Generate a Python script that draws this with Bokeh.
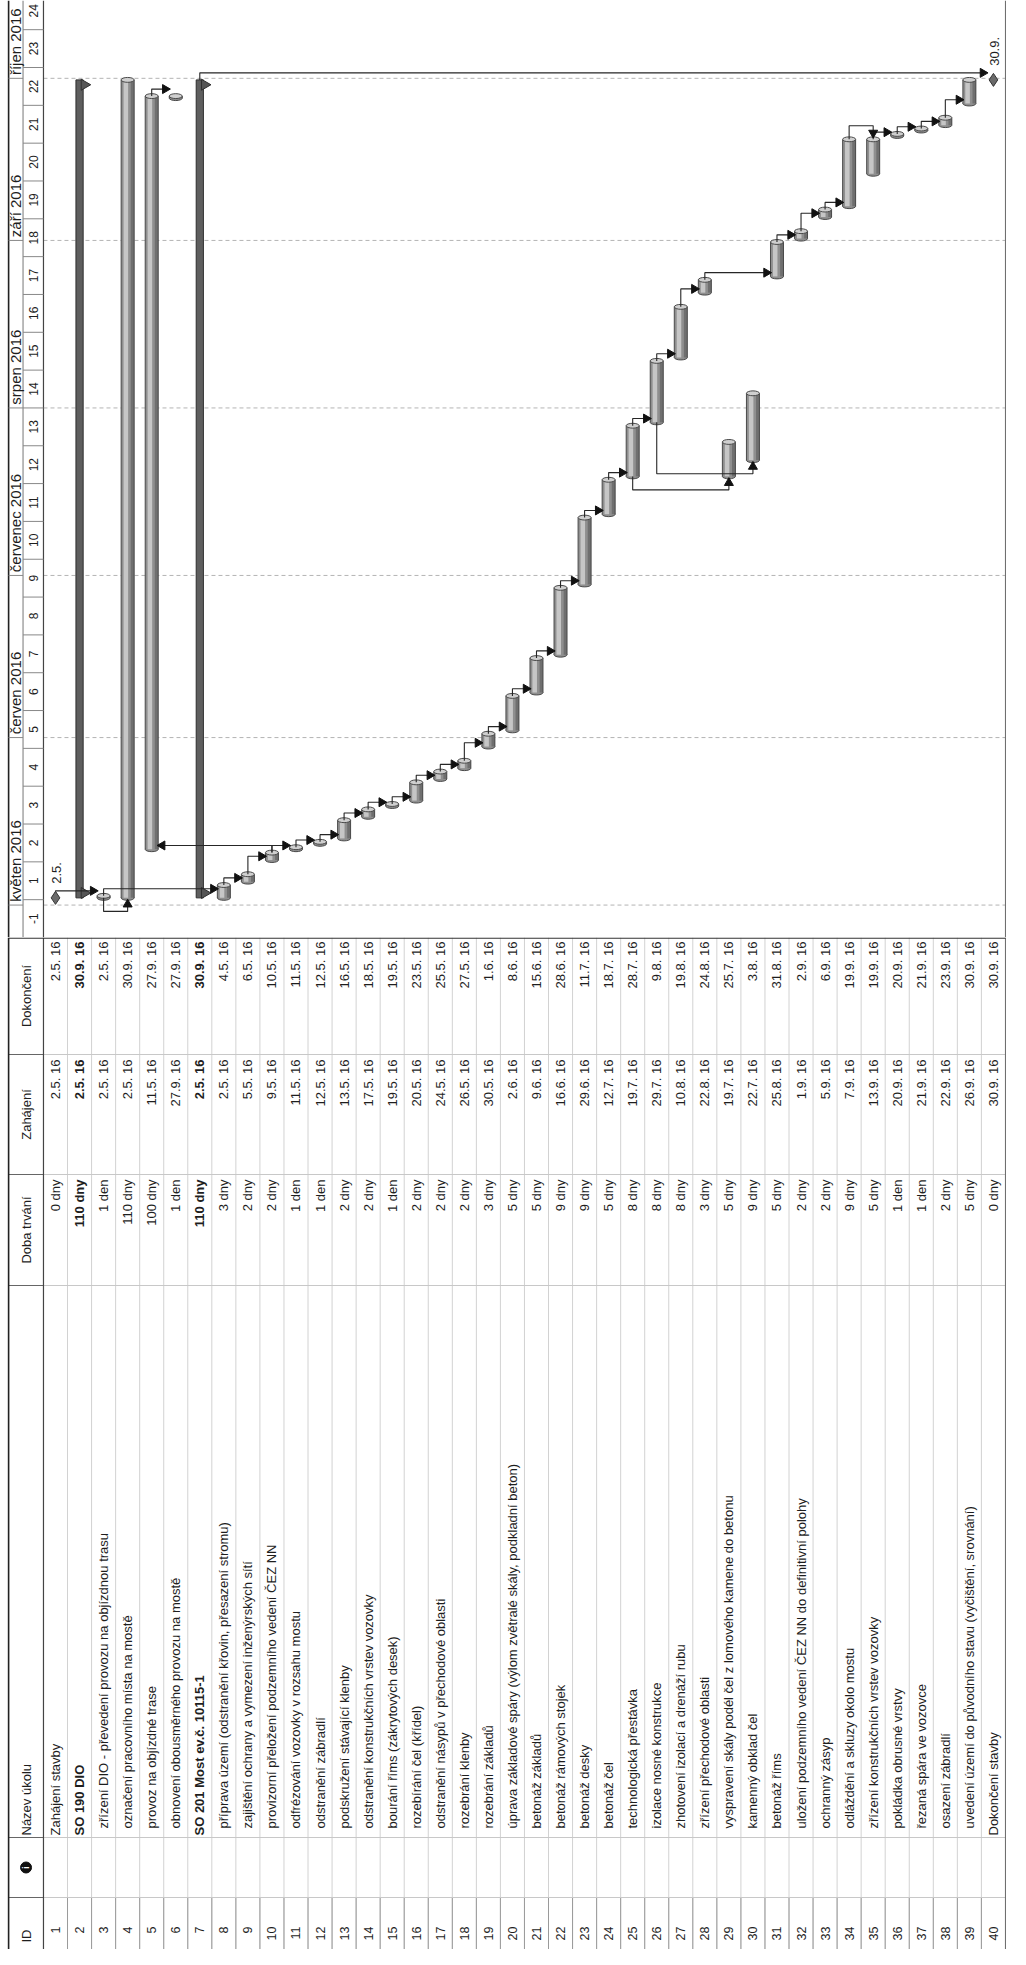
import math
import datetime as dt
from bokeh.plotting import figure
from bokeh.models import Range1d
from bokeh.layouts import column
from bokeh.embed import file_html
from bokeh.resources import INLINE
from bokeh.core.properties import value

# ---------------- data ----------------
task_ids = list(range(1, 41))
task_names = [
    "Zahájení stavby",
    "SO 190 DIO",
    "zřízení DIO - převedení provozu na objízdnou trasu",
    "označení pracovního místa na mostě",
    "provoz na objízdné trase",
    "obnovení obousměrného provozu na mostě",
    "SO 201 Most ev.č. 10115-1",
    "příprava území (odstranění křovin, přesazení stromu)",
    "zajištění ochrany a vymezení inženýrských sítí",
    "provizorní přeložení podzemního vedení ČEZ NN",
    "odfrézování vozovky v rozsahu mostu",
    "odstranění zábradlí",
    "podskružení stávající klenby",
    "odstranění konstrukčních vrstev vozovky",
    "bourání říms (zákrytových desek)",
    "rozebírání čel (křídel)",
    "odstranění násypů v přechodové oblasti",
    "rozebrání klenby",
    "rozebrání základů",
    "úprava základové spáry (výlom zvětralé skály, podkladní beton)",
    "betonáž základů",
    "betonáž rámových stojek",
    "betonáž desky",
    "betonáž čel",
    "technologická přestávka",
    "izolace nosné konstrukce",
    "zhotovení izolací a drenáží rubu",
    "zřízení přechodové oblasti",
    "vyspravení skály podél čel z lomového kamene do betonu",
    "kamenný obklad čel",
    "betonáž říms",
    "uložení podzemního vedení ČEZ NN do definitivní polohy",
    "ochranný zásyp",
    "odláždění a skluzy okolo mostu",
    "zřízení konstrukčních vrstev vozovky",
    "pokládka obrusné vrstvy",
    "řezaná spára ve vozovce",
    "osazení zábradlí",
    "uvedení území do původního stavu (vyčištění, srovnání)",
    "Dokončení stavby",
]
durations = [
    "0 dny", "110 dny", "1 den", "110 dny", "100 dny", "1 den", "110 dny", "3 dny",
    "2 dny", "2 dny", "1 den", "1 den", "2 dny", "2 dny", "1 den", "2 dny", "2 dny",
    "2 dny", "3 dny", "5 dny", "5 dny", "9 dny", "9 dny", "5 dny", "8 dny", "8 dny",
    "8 dny", "3 dny", "5 dny", "9 dny", "5 dny", "2 dny", "2 dny", "9 dny", "5 dny",
    "1 den", "1 den", "2 dny", "5 dny", "0 dny",
]
start_dates = [
    "2.5. 16", "2.5. 16", "2.5. 16", "2.5. 16", "11.5. 16", "27.9. 16", "2.5. 16",
    "2.5. 16", "5.5. 16", "9.5. 16", "11.5. 16", "12.5. 16", "13.5. 16", "17.5. 16",
    "19.5. 16", "20.5. 16", "24.5. 16", "26.5. 16", "30.5. 16", "2.6. 16", "9.6. 16",
    "16.6. 16", "29.6. 16", "12.7. 16", "19.7. 16", "29.7. 16", "10.8. 16", "22.8. 16",
    "19.7. 16", "22.7. 16", "25.8. 16", "1.9. 16", "5.9. 16", "7.9. 16", "13.9. 16",
    "20.9. 16", "21.9. 16", "22.9. 16", "26.9. 16", "30.9. 16",
]
finish_dates = [
    "2.5. 16", "30.9. 16", "2.5. 16", "30.9. 16", "27.9. 16", "27.9. 16", "30.9. 16",
    "4.5. 16", "6.5. 16", "10.5. 16", "11.5. 16", "12.5. 16", "16.5. 16", "18.5. 16",
    "19.5. 16", "23.5. 16", "25.5. 16", "27.5. 16", "1.6. 16", "8.6. 16", "15.6. 16",
    "28.6. 16", "11.7. 16", "18.7. 16", "28.7. 16", "9.8. 16", "19.8. 16", "24.8. 16",
    "25.7. 16", "3.8. 16", "31.8. 16", "2.9. 16", "6.9. 16", "19.9. 16", "19.9. 16",
    "20.9. 16", "21.9. 16", "23.9. 16", "30.9. 16", "30.9. 16",
]
summary_rows = [2, 7]
top_level_rows = [1, 2, 7, 40]
milestone_rows = [1, 40]
milestone_labels = ["2.5.", "30.9."]
milestone_hours = [8, 17]
fs_links = [
    (1, 3), (3, 8), (10, 5), (5, 6), (7, 40),
    (8, 9), (9, 10), (10, 11), (11, 12), (12, 13), (13, 14), (14, 15), (15, 16),
    (16, 17), (17, 18), (18, 19), (19, 20), (20, 21), (21, 22), (22, 23), (23, 24),
    (24, 25), (25, 26), (26, 27), (27, 28), (28, 31), (31, 32), (32, 33), (33, 34),
    (35, 36), (36, 37), (37, 38), (38, 39),
]
ss_links = [(3, 4), (25, 29), (26, 30)]
ff_links = [(34, 35)]
timeline_origin = "25.4. 16"
week_labels = ["-1"] + [str(k) for k in range(1, 25)]
month_labels = ["květen 2016", "červen 2016", "červenec 2016", "srpen 2016",
                "září 2016", "říjen 2016"]
month_first_days = ["1.5. 16", "1.6. 16", "1.7. 16", "1.8. 16", "1.9. 16", "1.10. 16"]
col_headers = ["ID", "Název úkolu", "Doba trvání", "Zahájení", "Dokončení"]


# ---------------- helpers ----------------
def parse(s):
    d, m, y = [int(v) for v in s.replace(" ", "").split(".") if v]
    return dt.date(2000 + y, m, d)


ORIGIN = parse(timeline_origin)


def day_num(s):
    return (parse(s) - ORIGIN).days


start_t = {i: day_num(s) + 8 / 24 for i, s in zip(task_ids, start_dates)}
end_t = {i: day_num(f) + 17 / 24 for i, f in zip(task_ids, finish_dates)}
for r, h in zip(milestone_rows, milestone_hours):
    tm = day_num(start_dates[r - 1]) + h / 24
    start_t[r] = tm
    end_t[r] = tm

FONT = value("Liberation Sans")
TXT = "#1e1e1e"
ROT = math.pi / 2

HDR_TOP, TIER, HDR_BOT, LAST = -0.95, -0.35, 0.5, 40.5
x_range = Range1d(-1.287, 40.71)
GANTT_TOP = 173.4

# ---------------- gantt figure ----------------
g = figure(width=1010, height=937, x_range=x_range, y_range=Range1d(0, GANTT_TOP),
           output_backend="svg", toolbar_location=None, min_border=0,
           x_axis_location=None, y_axis_location=None,
           outline_line_color=None, background_fill_color="white",
           border_fill_color="white")
g.grid.visible = False

# month dashed gridlines
m_days = [day_num(m) for m in month_first_days]
g.segment(x0=[HDR_BOT] * len(m_days), x1=[LAST] * len(m_days), y0=m_days, y1=m_days,
          line_color="#b4b4b4", line_width=1, line_dash="4 3")

# header frame
g.segment(x0=[HDR_TOP, TIER, HDR_BOT, LAST], x1=[HDR_TOP, TIER, HDR_BOT, LAST],
          y0=[0] * 4, y1=[GANTT_TOP] * 4,
          line_color=["#222222", "#777777", "#444444", "#666666"],
          line_width=[1.6, 1, 1.2, 1])
week_starts = [7 * k for k in range(len(week_labels))]
g.segment(x0=[TIER] * len(week_starts), x1=[HDR_BOT] * len(week_starts),
          y0=week_starts, y1=week_starts, line_color="#888888", line_width=1)
g.segment(x0=[HDR_TOP] * len(m_days), x1=[TIER] * len(m_days),
          y0=m_days, y1=m_days, line_color="#888888", line_width=1)
g.text(x=[(TIER + HDR_BOT) / 2] * len(week_labels), y=[w + 3.5 for w in week_starts],
       text=week_labels, angle=ROT, text_align="center", text_baseline="middle",
       text_font=FONT, text_font_size="12px", text_color=TXT)
g.text(x=[(HDR_TOP + TIER) / 2] * len(month_labels), y=[m + 0.6 for m in m_days],
       text=month_labels, angle=ROT, text_align="left", text_baseline="middle",
       text_font=FONT, text_font_size="15px", text_color=TXT)

# connectors
BAR_HALF = 0.27
lx, ly, ax, ay, aa = [], [], [], [], []
for p, s in fs_links:
    te, ts = end_t[p], start_t[s]
    elbow = max(te + 1.3, ts + 0.7)
    d = 1 if s > p else -1
    tip = s - d * (BAR_HALF + 0.17)
    lx.append([p, p, tip]); ly.append([te, elbow, elbow])
    ax.append(tip); ay.append(elbow); aa.append(-ROT if d > 0 else ROT)
for p, s in ss_links:
    tp, ts = start_t[p], start_t[s]
    low = min(tp, ts) - 2.5
    lx.append([p, p, s, s]); ly.append([tp, low, low, ts - 1.2])
    ax.append(s); ay.append(ts - 1.2); aa.append(0.0)
for p, s in ff_links:
    tp, ts = end_t[p], end_t[s]
    high = max(tp, ts) + 2.5
    lx.append([p, p, s, s]); ly.append([tp, high, high, ts + 1.2])
    ax.append(s); ay.append(ts + 1.2); aa.append(math.pi)

# task bars (cylinders)
bar_rows = [i for i in task_ids if i not in summary_rows and i not in milestone_rows]
b0 = [start_t[i] for i in bar_rows]
b1 = [end_t[i] for i in bar_rows]
CAP = 0.9
g.ellipse(x=bar_rows, y=b0, width=2 * BAR_HALF, height=CAP, fill_color="#8f8f8f",
          line_color="#4a4a4a", line_width=1)
g.quad(left=[r - BAR_HALF for r in bar_rows], right=[r + BAR_HALF for r in bar_rows],
       bottom=b0, top=b1, fill_color="#8f8f8f", line_color=None)
g.quad(left=[r - 0.17 for r in bar_rows], right=[r + 0.02 for r in bar_rows],
       bottom=b0, top=b1, fill_color="#c6c6c6", line_color=None)
g.quad(left=[r + 0.13 for r in bar_rows], right=[r + BAR_HALF for r in bar_rows],
       bottom=b0, top=b1, fill_color="#6f6f6f", line_color=None)
g.segment(x0=[r - BAR_HALF for r in bar_rows] + [r + BAR_HALF for r in bar_rows],
          x1=[r - BAR_HALF for r in bar_rows] + [r + BAR_HALF for r in bar_rows],
          y0=b0 + b0, y1=b1 + b1, line_color="#4a4a4a", line_width=1)
g.ellipse(x=bar_rows, y=b1, width=2 * BAR_HALF, height=CAP, fill_color="#cfcfcf",
          line_color="#4a4a4a", line_width=1)

# summary bars
s0 = [start_t[i] for i in summary_rows]
s1 = [end_t[i] for i in summary_rows]
g.quad(left=[r - 0.15 for r in summary_rows], right=[r + 0.15 for r in summary_rows],
       bottom=s0, top=s1, fill_color="#5e5e5e", line_color="#2e2e2e", line_width=1)
g.scatter(x=[r + 0.2 for r in summary_rows] * 2, y=[t + 0.9 for t in s0] + [t - 0.9 for t in s1],
          marker="triangle", angle=-ROT, size=11, fill_color="#555555",
          line_color="#2e2e2e")

# link lines and arrowheads
g.multi_line(xs=lx, ys=ly, line_color="#262626", line_width=1.1)
g.scatter(x=ax, y=ay, angle=aa, marker="triangle", size=9, fill_color="#111111",
          line_color="#111111")

# milestones
mt = [start_t[r] for r in milestone_rows]
g.scatter(x=milestone_rows, y=mt, marker="diamond", size=13, fill_color="#6a6a6a",
          line_color="#333333")
g.text(x=[r + 0.05 for r in milestone_rows], y=[t + 2.6 for t in mt], text=milestone_labels,
       angle=ROT, text_align="left", text_baseline="middle", text_font=FONT,
       text_font_size="13px", text_color=TXT)

# ---------------- table figure ----------------
TY0, TY1 = 8, 1020
t = figure(width=1010, height=TY1 - TY0, x_range=x_range, y_range=Range1d(TY0, TY1),
           output_backend="svg", toolbar_location=None, min_border=0,
           x_axis_location=None, y_axis_location=None,
           outline_line_color=None, background_fill_color="white",
           border_fill_color="white")
t.grid.visible = False

COL_EDGES = [60, 120, 672, 783, 903]
row_lines = [k + 0.5 for k in range(1, 40)]
t.segment(x0=row_lines, x1=row_lines, y0=[TY0] * len(row_lines), y1=[TY1] * len(row_lines),
          line_color="#d2d2d2", line_width=1)
t.segment(x0=row_lines, x1=row_lines, y0=[TY0] * len(row_lines), y1=[60] * len(row_lines),
          line_color="#9a9a9a", line_width=1)
t.segment(x0=[HDR_BOT] * len(COL_EDGES), x1=[LAST] * len(COL_EDGES), y0=COL_EDGES,
          y1=COL_EDGES, line_color="#c8c8c8", line_width=1)
t.segment(x0=[HDR_TOP] * len(COL_EDGES), x1=[HDR_BOT] * len(COL_EDGES), y0=COL_EDGES,
          y1=COL_EDGES, line_color="#666666", line_width=1)
t.segment(x0=[HDR_TOP, HDR_BOT, LAST], x1=[HDR_TOP, HDR_BOT, LAST], y0=[TY0] * 3,
          y1=[TY1] * 3, line_color=["#222222", "#444444", "#666666"],
          line_width=[1.6, 1.2, 1])
t.segment(x0=[HDR_TOP], x1=[LAST], y0=[TY1 - 0.6], y1=[TY1 - 0.6], line_color="#333333",
          line_width=1.2)

# header
HX = (HDR_TOP + HDR_BOT) / 2
t.text(x=[HX], y=[15], text=[col_headers[0]], angle=ROT, text_align="left",
       text_baseline="middle", text_font=FONT, text_font_size="13px", text_color=TXT)
t.text(x=[HX], y=[122], text=[col_headers[1]], angle=ROT, text_align="left",
       text_baseline="middle", text_font=FONT, text_font_size="13px", text_color=TXT)
t.text(x=[HX] * 3, y=[727.5, 843, 961.5], text=col_headers[2:], angle=ROT,
       text_align="center", text_baseline="middle", text_font=FONT,
       text_font_size="13px", text_color=TXT)
t.scatter(x=[HX], y=[90], marker="circle", size=11, fill_color="#111111",
          line_color="#111111")
t.text(x=[HX], y=[90], text=["i"], angle=ROT, text_align="center", text_baseline="middle",
       text_font=FONT, text_font_size="9px", text_font_style="bold", text_color="white")

# body
t.text(x=task_ids, y=[31] * len(task_ids), text=[str(i) for i in task_ids], angle=ROT,
       text_align="right", text_baseline="middle", text_font=FONT,
       text_font_size="12.5px", text_color=TXT)

for bold in (False, True):
    rows = [i for i in task_ids if (i in summary_rows) == bold]
    style = "bold" if bold else "normal"
    t.text(x=rows, y=[122 if i in top_level_rows else 129 for i in rows],
           text=[task_names[i - 1] for i in rows], angle=ROT, text_align="left",
           text_baseline="middle", text_font=FONT, text_font_size="13px",
           text_font_style=style, text_color=TXT)
    for ycol, vals in ((778, durations), (898, start_dates), (1016, finish_dates)):
        t.text(x=rows, y=[ycol] * len(rows), text=[vals[i - 1] for i in rows], angle=ROT,
               text_align="right", text_baseline="middle", text_font=FONT,
               text_font_size="13px", text_font_style=style, text_color=TXT)

layout = column(g, t)
open("out.html", "w").write(file_html(layout, INLINE))
